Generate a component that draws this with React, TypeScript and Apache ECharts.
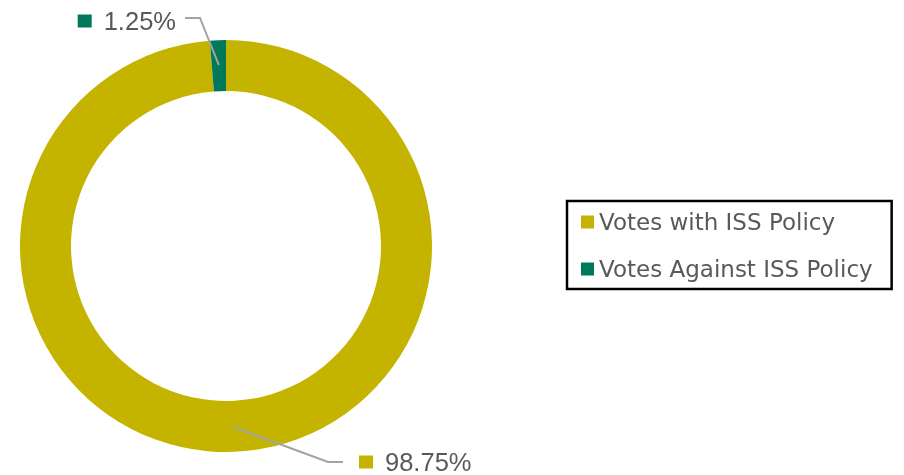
import React, { useEffect, useRef } from "react";
import * as echarts from "echarts";

const categories = ["Votes with ISS Policy", "Votes Against ISS Policy"];
const values = [98.75, 1.25];
const colors = ["#C4B400", "#00795A"];

// layout constants
const CENTER: [number, number] = [226, 246];
const R_IN = 155;
const R_OUT = 206;
const START_ANGLE = 90;
// elbow point and label placement for each slice's leader line
const labelGuides = [
  { elbow: [328, 462], seg: 15, side: 1, gap: 16, labelY: 462 },
  { elbow: [200, 18], seg: 15, side: -1, gap: 9, labelY: 21 },
];

export default function App() {
  const ref = useRef<HTMLDivElement>(null);

  useEffect(() => {
    if (!ref.current) return;
    const chart = echarts.init(ref.current, null, { renderer: "svg" });
    const total = values.reduce((a, b) => a + b, 0);
    const midAngles: number[] = [];
    let cum = 0;
    values.forEach((v) => {
      midAngles.push(START_ANGLE - (360 * (cum + v / 2)) / total);
      cum += v;
    });

    const guidePoints = values.map((_, i) => {
      const g = labelGuides[i];
      const a = (midAngles[i] * Math.PI) / 180;
      const rMid = (R_IN + R_OUT) / 2 + 0.5;
      const p0 = [CENTER[0] + rMid * Math.cos(a), CENTER[1] - rMid * Math.sin(a)];
      const p1 = g.elbow;
      const p2 = [p1[0] + g.side * g.seg, p1[1]];
      return [p0, p1, p2];
    });

    const rich: any = {
      t: {
        fontFamily: "Liberation Sans, Arial, sans-serif",
        fontSize: 25.5,
        color: "#595959",
        padding: [0, 0, 0, 12],
      },
    };
    colors.forEach((c, i) => {
      rich["m" + i] = { width: 14, height: 13, backgroundColor: c };
    });

    chart.setOption({
      animation: false,
      legend: {
        orient: "vertical",
        left: 567,
        top: 201,
        itemWidth: 13,
        itemHeight: 13,
        icon: "rect",
        itemGap: 21,
        itemTextGap: 6,
        borderColor: "#000",
        borderWidth: 2.5,
        padding: [8, 19, 7, 14],
        selectedMode: false,
        data: categories,
        textStyle: {
          fontFamily: "DejaVu Sans, sans-serif",
          fontSize: 23,
          color: "#595959",
          lineHeight: 26,
        },
      },
      graphic: guidePoints.map((pts) => ({
        type: "polyline",
        z: 100,
        silent: true,
        shape: { points: pts },
        style: { stroke: "#A3A3A3", lineWidth: 2, fill: null },
      })),
      series: [
        {
          type: "pie",
          center: CENTER,
          radius: [R_IN, R_OUT],
          startAngle: START_ANGLE,
          clockwise: true,
          silent: true,
          avoidLabelOverlap: false,
          label: {
            show: true,
            position: "outside",
            formatter: (p: any) => `{m${p.dataIndex}|}{t|${p.value.toFixed(2)}%}`,
            rich,
          },
          labelLine: { show: false },
          labelLayout: (params: any) => {
            const i = params.dataIndex;
            const g = labelGuides[i];
            const p2 = guidePoints[i][2];
            return {
              x: p2[0] + g.side * g.gap,
              y: g.labelY,
              align: g.side > 0 ? "left" : "right",
              verticalAlign: "middle",
            };
          },
          data: categories.map((name, i) => ({
            name,
            value: values[i],
            itemStyle: { color: colors[i] },
          })),
        },
      ],
    });
    return () => chart.dispose();
  }, []);

  return (
    <div
      ref={ref}
      style={{ position: "fixed", left: 0, top: 0, width: 904, height: 475 }}
    />
  );
}
